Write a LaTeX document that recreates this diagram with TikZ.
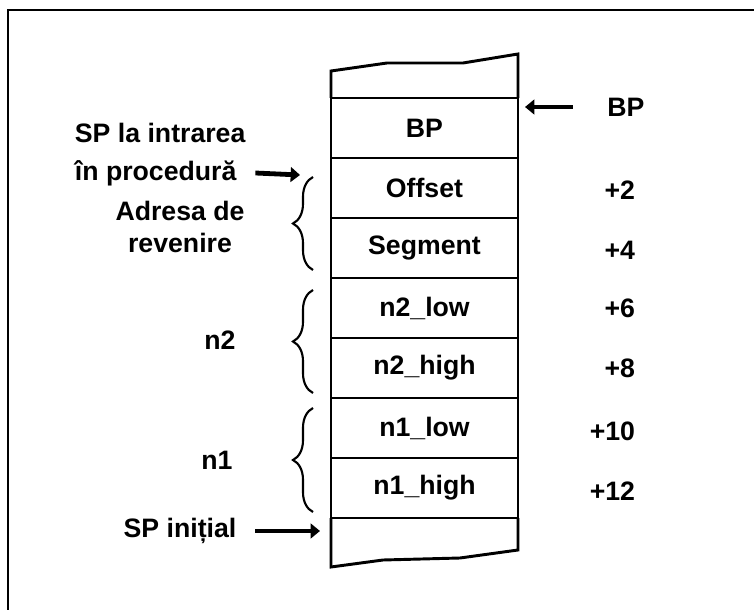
\documentclass[tikz,border=0pt]{standalone}
\usepackage{fontspec}
\setmainfont{Liberation Sans}
\usetikzlibrary{positioning,arrows.meta,decorations.pathreplacing}

\begin{document}
\begin{tikzpicture}[x=0.75pt,y=-0.75pt,
  every node/.style={font=\bfseries\fontsize{20}{24}\selectfont,inner sep=2pt},
  cell/.style={draw,line width=2.2pt,minimum width=140.25pt,minimum height=45pt,inner sep=0pt,outer sep=0pt},
  ptr/.style={line width=3.6pt,-{Triangle[length=7pt,width=11pt]}},
  acolada/.style={line width=1.6pt,decorate,decoration={brace,amplitude=15pt}}]
  \useasboundingbox (0,0) rectangle (754,610);
  \draw[line width=0.9pt] (8,610) -- (8,10) -- (754,10);

  % stiva
  \node[cell] (bp) at (424.5,128) {BP};
  \node[cell,below=0pt of bp] (ofs) {Offset};
  \node[cell,below=0pt of ofs] (seg) {Segment};
  \node[cell,below=0pt of seg] (ntwolo) {n2\_low};
  \node[cell,below=0pt of ntwolo] (ntwohi) {n2\_high};
  \node[cell,below=0pt of ntwohi] (nonelo) {n1\_low};
  \node[cell,below=0pt of nonelo] (nonehi) {n1\_high};
  \draw[line width=2.2pt] (bp.north west) -- (331,71) -- (387,63) -- (463,63) -- (518,54) -- (bp.north east);
  \draw[line width=2.2pt] (nonehi.south west) -- (331,567) -- (383,560) -- (460,558) -- (518,550) -- (nonehi.south east);

  % dreapta
  \node (bplbl) at (626,107) {BP};
  \coordinate (bptip) at (525,107);
  \draw[ptr] ([xshift=-24pt]bplbl.west) -- (bptip);
  \node[anchor=east] (dtwo) at (638,190) {+2};
  \node[anchor=east] (dfour) at (638,250) {+4};
  \node[anchor=east] (dsix) at (638,308) {+6};
  \node[anchor=east] (deight) at (638,368) {+8};
  \node[anchor=east] (dten) at (638,431) {+10};
  \node[anchor=east] (dtwelve) at (638,491) {+12};

  % stanga
  \node[anchor=west] (spa) at (72,133) {SP la intrarea};
  \node[anchor=west] (spb) at (72,173) {în procedură};
  \coordinate (spatip) at (300,175);
  \draw[ptr] ([xshift=12pt]spb.east) -- (spatip);
  \node[align=center] (adr) at (180,227) {Adresa de\\revenire};
  \draw[acolada] (313,270) -- (313,177);
  \node (ntwo) at (220,340) {n2};
  \draw[acolada] (313,393) -- (313,290);
  \node (none) at (217,460) {n1};
  \draw[acolada] (313,512) -- (313,408);
  \node (spi) at (180,531) {SP inițial};
  \coordinate (spitip) at (320,531);
  \draw[ptr] ([xshift=12pt]spi.east) -- (spitip);
\end{tikzpicture}
\end{document}
